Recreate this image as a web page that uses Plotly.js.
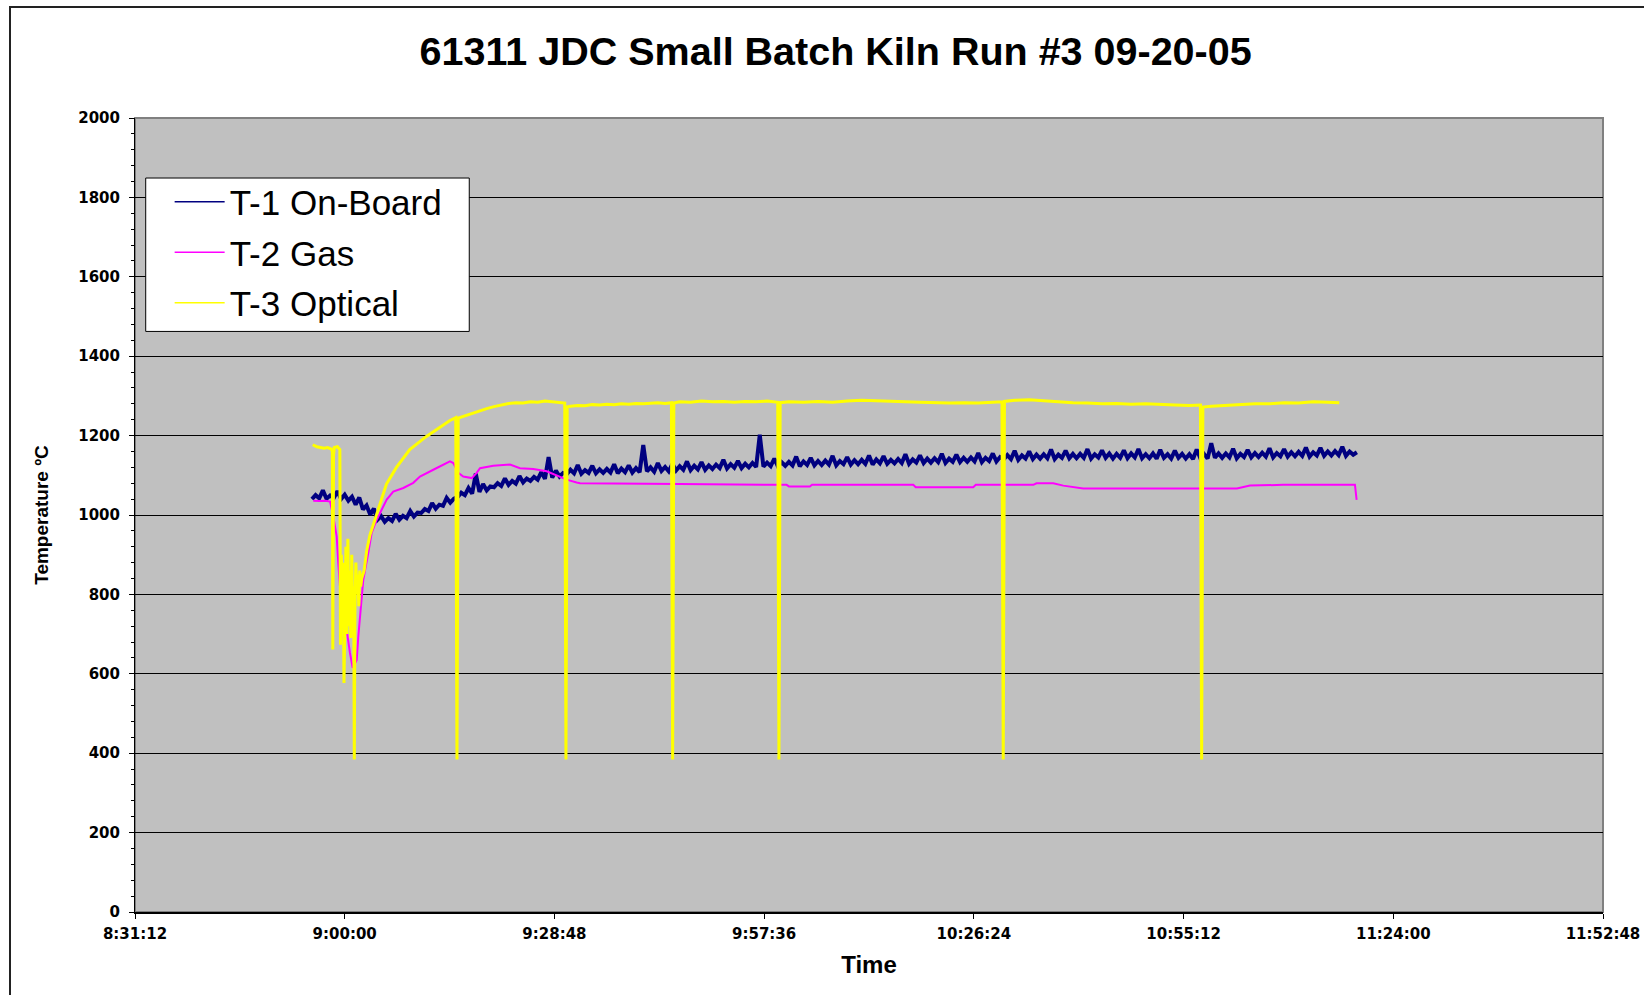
<!DOCTYPE html>
<html><head><meta charset="utf-8">
<script src="https://cdn.plot.ly/plotly-3.0.1.min.js"></script>
<style>
html,body{margin:0;padding:0;background:#fff;}
#wrap{position:relative;width:1644px;height:995px;overflow:hidden;}
#chart{width:1644px;height:995px;}
#frame{position:absolute;left:9px;top:6px;width:1700px;height:1100px;border-left:2px solid #222;border-top:2px solid #222;pointer-events:none;}
</style></head><body>
<div id="wrap"><div id="chart"></div><div id="frame"></div></div>
<script>
const RUN_DATE = "2005-09-20";
const seriesNames = ["T-1 On-Board", "T-2 Gas", "T-3 Optical"];
const seriesColors = ["#000080", "#FF00FF", "#FFFF00"];

// T-1 On-Board: logged every 30 s starting at t1Start
const t1Start = "8:55:30";
const t1StepSec = 30;
const t1Temp = [
1040,1050,1042,1062,1041,1049,1043,1060,1040,1051,
1036,1046,1026,1044,1014,1024,1001,1016,988,997,
983,992,985,1003,988,998,992,1010,996,1006,
1005,1015,1010,1030,1016,1026,1023,1043,1031,1041,
1045,1056,1050,1068,1054,1104,1058,1078,1062,1072,
1070,1080,1073,1092,1076,1086,1079,1098,1082,1092,
1086,1096,1089,1108,1091,1146,1094,1112,1097,1106,
1103,1114,1105,1126,1104,1113,1106,1124,1105,1115,
1106,1116,1107,1128,1105,1117,1108,1125,1107,1118,
1108,1176,1110,1120,1109,1131,1111,1121,1110,1129,
1112,1123,1114,1135,1113,1124,1115,1133,1114,1125,
1116,1127,1118,1139,1117,1128,1119,1136,1118,1129,
1120,1131,1121,1202,1122,1132,1123,1142,1122,1133,
1124,1134,1125,1147,1123,1135,1126,1144,1125,1136,
1126,1137,1127,1149,1125,1136,1128,1146,1127,1138,
1128,1139,1129,1150,1127,1140,1130,1148,1129,1139,
1130,1141,1131,1153,1129,1140,1132,1150,1131,1142,
1132,1143,1133,1154,1131,1142,1134,1152,1133,1144,
1134,1145,1135,1156,1133,1144,1136,1155,1135,1146,
1140,1151,1141,1162,1139,1150,1142,1160,1141,1152,
1142,1153,1143,1165,1141,1152,1144,1162,1143,1154,
1143,1154,1144,1166,1142,1153,1145,1163,1144,1155,
1142,1154,1144,1163,1143,1155,1145,1166,1143,1153,
1143,1155,1142,1164,1144,1153,1142,1162,1144,1154,
1142,1153,1141,1165,1143,1154,1142,1181,1144,1155,
1144,1155,1145,1167,1143,1154,1146,1164,1145,1156,
1146,1157,1147,1168,1145,1156,1148,1166,1147,1158,
1148,1159,1149,1170,1147,1158,1150,1169,1149,1160,
1150,1161,1151,1172,1149,1160,1152,1158
];

// T-2 Gas
const t2Time = ["8:55:41","8:56:30","8:57:20","8:57:59","8:58:26","8:58:54","8:59:07","8:59:21","8:59:48","9:00:16",
"9:00:43","9:01:06","9:01:39","9:01:52","9:02:11","9:02:33","9:03:14","9:03:42","9:04:24","9:05:05",
"9:05:46","9:06:40","9:08:03","9:09:25","9:10:20","9:12:10","9:13:32","9:14:27","9:14:55","9:15:36",
"9:16:17","9:17:26","9:18:07","9:18:35","9:20:24","9:22:42","9:24:04","9:25:54","9:27:44","9:29:34",
"9:30:29","9:31:51","9:32:19","9:46:02","9:54:17","10:00:41","10:01:00","10:03:53","10:04:10","10:18:05",
"10:18:25","10:26:19","10:26:40","10:34:34","10:35:00","10:37:18","10:38:41","10:41:25","11:02:32","11:04:19",
"11:08:53","11:18:44","11:18:58"];
const t2Temp = [1036,1035,1036,1034,996,946,879,820,770,703,
653,615,635,694,770,837,904,955,988,1013,
1039,1059,1068,1081,1097,1114,1127,1135,1131,1106,
1097,1093,1106,1118,1124,1127,1118,1116,1110,1097,
1089,1082,1080,1078,1076,1076,1072,1072,1076,1076,
1070,1070,1076,1076,1080,1080,1074,1067,1067,1074,
1076,1076,1038];

// T-3 Optical
const t3Time = ["8:55:36","8:56:10","8:56:40","8:57:10","8:57:40","8:58:10","8:58:18","8:58:22","8:58:28","8:58:34",
"8:59:00","8:59:20","8:59:25","8:59:32","8:59:40","8:59:48","8:59:54","9:00:02","9:00:10","9:00:18",
"9:00:26","9:00:34","9:00:42","9:00:50","9:00:58","9:01:06","9:01:14","9:01:19","9:01:24","9:01:32",
"9:01:40","9:01:48","9:01:56","9:02:04","9:02:12","9:02:20","9:02:40","9:03:01","9:03:28","9:03:55",
"9:04:21","9:04:49","9:05:44","9:07:06","9:08:56","9:11:13","9:13:30","9:14:27","9:15:15","9:15:25",
"9:15:35","9:16:30","9:17:30","9:18:30","9:19:30","9:20:30","9:21:30","9:22:30","9:23:30","9:24:30",
"9:25:30","9:26:30","9:27:30","9:28:30","9:29:30","9:30:13","9:30:23","9:30:33","9:31:00","9:32:00",
"9:33:00","9:34:00","9:35:00","9:36:00","9:37:00","9:38:00","9:39:00","9:40:00","9:41:00","9:42:00",
"9:43:00","9:44:00","9:44:52","9:45:02","9:45:12","9:46:00","9:47:30","9:49:00","9:50:30","9:52:00",
"9:53:30","9:55:00","9:56:30","9:58:00","9:59:28","9:59:38","9:59:48","10:01:00","10:03:00","10:05:00",
"10:07:00","10:09:00","10:11:00","10:13:00","10:15:00","10:17:00","10:19:00","10:21:00","10:23:00","10:25:00",
"10:27:00","10:29:00","10:30:16","10:30:26","10:30:36","10:32:00","10:34:00","10:36:00","10:38:00","10:40:00",
"10:42:00","10:44:00","10:46:00","10:48:00","10:50:00","10:52:00","10:54:00","10:56:00","10:57:31","10:57:41",
"10:57:51","10:59:00","11:01:00","11:03:00","11:05:00","11:07:00","11:09:00","11:11:00","11:13:00","11:15:00",
"11:16:35"];
const t3Temp = [1177,1172,1170,1168,1170,1166,1160,661,1150,1170,
1172,1165,673,900,780,880,577,760,920,700,
940,720,860,690,900,740,820,384,760,880,
800,850,770,860,820,840,860,910,950,975,
1000,1030,1078,1120,1165,1198,1227,1238,1245,384,
1244,1250,1256,1262,1268,1273,1277,1281,1283,1282,
1285,1284,1287,1285,1284,1282,384,1272,1274,1276,
1275,1278,1277,1279,1278,1280,1279,1281,1280,1282,
1283,1281,1283,384,1282,1285,1284,1287,1285,1286,
1284,1286,1285,1287,1284,384,1283,1285,1284,1286,
1284,1287,1289,1288,1286,1285,1284,1283,1282,1283,
1282,1284,1285,384,1286,1289,1290,1288,1285,1283,
1282,1280,1281,1279,1280,1278,1277,1276,1277,384,
1272,1274,1276,1278,1280,1280,1283,1282,1285,1284,
1283];

// Axes
const xTickStart = "8:31:12";
const xTickEnd = "11:52:48";
const xTickStepSec = 1728;
const yMin = 0, yMax = 2000, yStep = 200, yMinorStep = 40;

function toSec(hms){ const p = hms.split(":").map(Number); return p[0]*3600 + p[1]*60 + p[2]; }
function pad(n){ return String(n).padStart(2, "0"); }
function stamp(sec){ return RUN_DATE + " " + pad(Math.floor(sec/3600)) + ":" + pad(Math.floor(sec%3600/60)) + ":" + pad(sec%60); }

const t1X = t1Temp.map((_, i) => stamp(toSec(t1Start) + i*t1StepSec));
const t2X = t2Time.map(t => stamp(toSec(t)));
const t3X = t3Time.map(t => stamp(toSec(t)));

const dataWidths = [4, 2, 3];
const seriesX = [t1X, t2X, t3X];
const seriesY = [t1Temp, t2Temp, t3Temp];

const traces = [];
seriesNames.forEach((n, k) => {
  traces.push({x: seriesX[k], y: seriesY[k], name: n, type: "scatter", mode: "lines",
               line: {color: seriesColors[k], width: dataWidths[k]}, showlegend: false, legendgroup: "g" + k});
});
// legend keys (thin sample lines, as in the original legend)
seriesNames.forEach((n, k) => {
  traces.push({x: [null], y: [null], name: n, type: "scatter", mode: "lines",
               line: {color: seriesColors[k], width: 1.5}, showlegend: true, legendgroup: "g" + k, hoverinfo: "skip"});
});

const tickFont = {family: "DejaVu Sans", size: 15, color: "#000", weight: 700};
const layout = {
  width: 1644, height: 995,
  margin: {l: 135, r: 41, t: 118, b: 83, pad: 0},
  paper_bgcolor: "#ffffff",
  plot_bgcolor: "#C0C0C0",
  showlegend: true,
  title: {text: "61311 JDC Small Batch Kiln Run #3 09-20-05", font: {family: "Liberation Sans, Arial", size: 39.5, color: "#000", weight: 700},
          xref: "container", x: 0.5083, xanchor: "center", yref: "container", y: 1 - 51/995, yanchor: "middle"},
  xaxis: {
    type: "date",
    range: [stamp(toSec(xTickStart)), stamp(toSec(xTickEnd))],
    tick0: stamp(toSec(xTickStart)), dtick: xTickStepSec*1000, tickmode: "linear",
    tickformat: "%-H:%M:%S",
    showgrid: false, zeroline: false,
    showline: true, linecolor: "#000", linewidth: 2,
    ticks: "outside", ticklen: 5, tickwidth: 1, tickcolor: "#000",
    tickfont: tickFont, ticklabelstandoff: 2,
    title: {text: "Time", font: {family: "Liberation Sans, Arial", size: 24, color: "#000", weight: 700}, standoff: 14},
    automargin: false
  },
  yaxis: {
    range: [yMin, yMax], dtick: yStep, tick0: 0, tickmode: "linear", tickformat: "d",
    showgrid: true, gridcolor: "#000", gridwidth: 1, zeroline: false,
    showline: true, linecolor: "#000", linewidth: 1,
    ticks: "outside", ticklen: 5, tickwidth: 1, tickcolor: "#000",
    minor: {dtick: yMinorStep, ticks: "outside", ticklen: 3, tickcolor: "#000", showgrid: false},
    tickfont: tickFont, ticklabelstandoff: 6,
    title: {text: "Temperature ºC", font: {family: "Liberation Sans, Arial", size: 19, color: "#000", weight: 700}, standoff: 24},
    automargin: false
  },
  legend: {
    x: 0.0236, y: 0.9314, xanchor: "left", yanchor: "top",
    bgcolor: "rgba(0,0,0,0)", borderwidth: 0,
    font: {family: "Liberation Sans, Arial", size: 35, color: "#000"},
    traceorder: "grouped", tracegroupgap: 2, itemwidth: 50
  },
  shapes: [
    {type: "rect", xref: "paper", yref: "paper", x0: 0, x1: 1, y0: 0, y1: 1, line: {color: "#808080", width: 2}, layer: "below"},
    {type: "rect", xref: "paper", yref: "paper", x0: 0.0073, x1: 0.2277, y0: 0.7312, y1: 0.9244,
     fillcolor: "#ffffff", line: {color: "#000", width: 1}, layer: "above"}
  ]
};

Plotly.newPlot("chart", traces, layout, {displayModeBar: false, responsive: false});
</script>
</body></html>
